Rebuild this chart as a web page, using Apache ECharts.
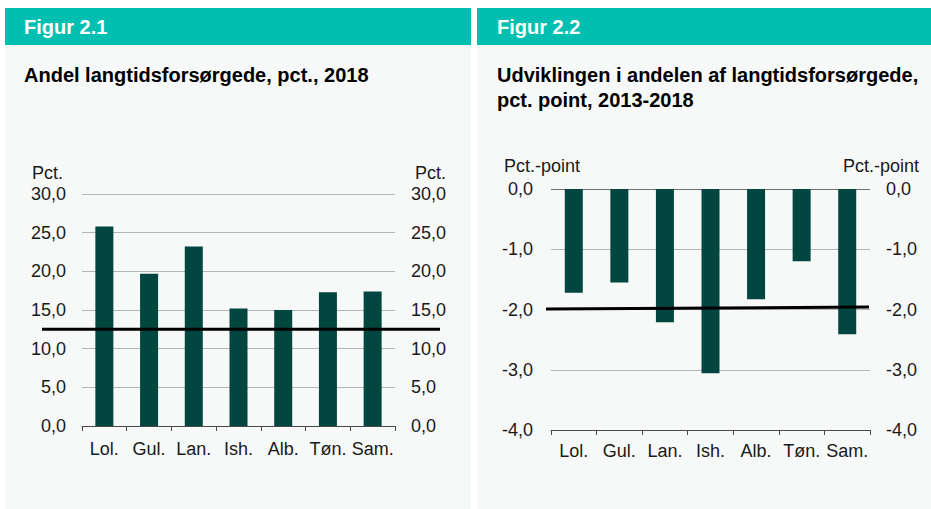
<!DOCTYPE html>
<html>
<head>
<meta charset="utf-8">
<script src="https://cdn.jsdelivr.net/npm/echarts@6/dist/echarts.min.js"></script>
<style>
html,body{margin:0;padding:0;background:#ffffff;}
#chart{width:931px;height:509px;}
</style>
</head>
<body>
<div id="chart"></div>
<script>
// ---- data ----
const categories = ['Lol.', 'Gul.', 'Lan.', 'Ish.', 'Alb.', 'Tøn.', 'Sam.'];
const share2018 = [25.8, 19.7, 23.2, 15.2, 15.0, 17.3, 17.4];
const shareLine = [12.5, 12.5];
const change2013to2018 = [-1.72, -1.55, -2.21, -3.06, -1.83, -1.20, -2.41];
const changeLine = [-1.99, -1.96];
const shareTicks = { min: 0, max: 30, interval: 5 };
const changeTicks = { min: -4, max: 0, interval: 1 };
const titles = {
  fig1: 'Figur 2.1',
  fig2: 'Figur 2.2',
  sub1: 'Andel langtidsforsørgede, pct., 2018',
  sub2: 'Udviklingen i andelen af langtidsforsørgede,\npct. point, 2013-2018',
  unit1: 'Pct.',
  unit2: 'Pct.-point'
};

// ---- styles ----
const FONT = '"Liberation Sans", Arial, sans-serif';
const BAR = '#01473f';
const GRID = '#b5b5b5';
const AXIS = '#4a4a4a';
const TXT = '#1a1a1a';
const fmt = v => v.toFixed(1).replace('.', ',');

const chart = echarts.init(document.getElementById('chart'), null, { renderer: 'svg' });

function catAxis(gi, margin) {
  return {
    gridIndex: gi, type: 'category', data: categories, boundaryGap: true,
    axisLine: { show: true, onZero: false, lineStyle: { color: AXIS, width: 1 } },
    axisTick: { show: true, length: 5, alignWithLabel: false, lineStyle: { color: AXIS } },
    axisLabel: { interval: 0, fontSize: 18, fontFamily: FONT, color: TXT, margin: margin },
    splitLine: { show: false }
  };
}
function valAxis(gi, t, pos, margin, showSplit, splitColors) {
  return {
    gridIndex: gi, type: 'value', position: pos, min: t.min, max: t.max, interval: t.interval,
    axisLine: { show: false }, axisTick: { show: false },
    axisLabel: { fontSize: 18, fontFamily: FONT, color: TXT, margin: margin, formatter: fmt },
    splitLine: { show: showSplit, lineStyle: { color: splitColors || GRID, width: 1 } }
  };
}
function hiddenX(gi) { return { gridIndex: gi, type: 'value', min: 0, max: 1, show: false }; }
function hiddenY(gi, t) { return { gridIndex: gi, type: 'value', min: t.min, max: t.max, show: false }; }

function txt(text, left, top, size, weight, color, lh, extra) {
  return Object.assign({
    text: text, left: left, top: top, padding: 0,
    textStyle: { fontSize: size, fontWeight: weight, color: color, fontFamily: FONT, lineHeight: lh }
  }, extra || {});
}

const option = {
  animation: false,
  backgroundColor: '#ffffff',
  graphic: {
    elements: [
      { type: 'rect', z: -100, shape: { x: 5, y: 45, width: 466, height: 464 }, style: { fill: '#f7f8f8' } },
      { type: 'rect', z: -100, shape: { x: 5, y: 8, width: 466, height: 37 }, style: { fill: '#00bfb1' } },
      { type: 'rect', z: -100, shape: { x: 477, y: 45, width: 454, height: 464 }, style: { fill: '#f7f8f8' } },
      { type: 'rect', z: -100, shape: { x: 477, y: 8, width: 454, height: 37 }, style: { fill: '#00bfb1' } }
    ]
  },
  title: [
    txt(titles.fig1, 24, 15, 20, 'bold', '#ffffff', 24),
    txt(titles.fig2, 497, 15, 20, 'bold', '#ffffff', 24),
    txt(titles.sub1, 24, 63, 20, 'bold', '#000000', 24),
    txt(titles.sub2, 497, 62, 20, 'bold', '#000000', 25),
    txt(titles.unit1, 32, 164, 18, 'normal', TXT, 18),
    txt(titles.unit1, 415, 164, 18, 'normal', TXT, 18),
    txt(titles.unit2, 504, 157, 18, 'normal', TXT, 18),
    Object.assign(txt(titles.unit2, 0, 157, 18, 'normal', TXT, 18), { left: undefined, right: 12 })
  ],
  grid: [
    { left: 82, top: 194, width: 313, height: 232 },
    { left: 42, top: 194, width: 398, height: 232 },
    { left: 551, top: 189, width: 319, height: 241 },
    { left: 546, top: 189, width: 323, height: 241 }
  ],
  xAxis: [
    catAxis(0, 14),
    hiddenX(1),
    catAxis(2, 12),
    hiddenX(3)
  ],
  yAxis: [
    valAxis(0, shareTicks, 'left', 16, true),
    valAxis(0, shareTicks, 'right', 16, false),
    hiddenY(1, shareTicks),
    valAxis(2, changeTicks, 'left', 18, true, [GRID, GRID, GRID, GRID, '#707070']),
    valAxis(2, changeTicks, 'right', 16, false),
    hiddenY(3, changeTicks)
  ],
  series: [
    { type: 'bar', xAxisIndex: 0, yAxisIndex: 0, data: share2018, barWidth: 18, itemStyle: { color: BAR }, z: 2 },
    { type: 'line', xAxisIndex: 1, yAxisIndex: 2, data: [[0, shareLine[0]], [1, shareLine[1]]],
      symbol: 'none', lineStyle: { color: '#000000', width: 3 }, z: 5 },
    { type: 'bar', xAxisIndex: 2, yAxisIndex: 3, data: change2013to2018, barWidth: 18, itemStyle: { color: BAR }, z: 2 },
    { type: 'line', xAxisIndex: 3, yAxisIndex: 5, data: [[0, changeLine[0]], [1, changeLine[1]]],
      symbol: 'none', lineStyle: { color: '#000000', width: 3 }, z: 5 }
  ]
};
chart.setOption(option);
</script>
</body>
</html>
